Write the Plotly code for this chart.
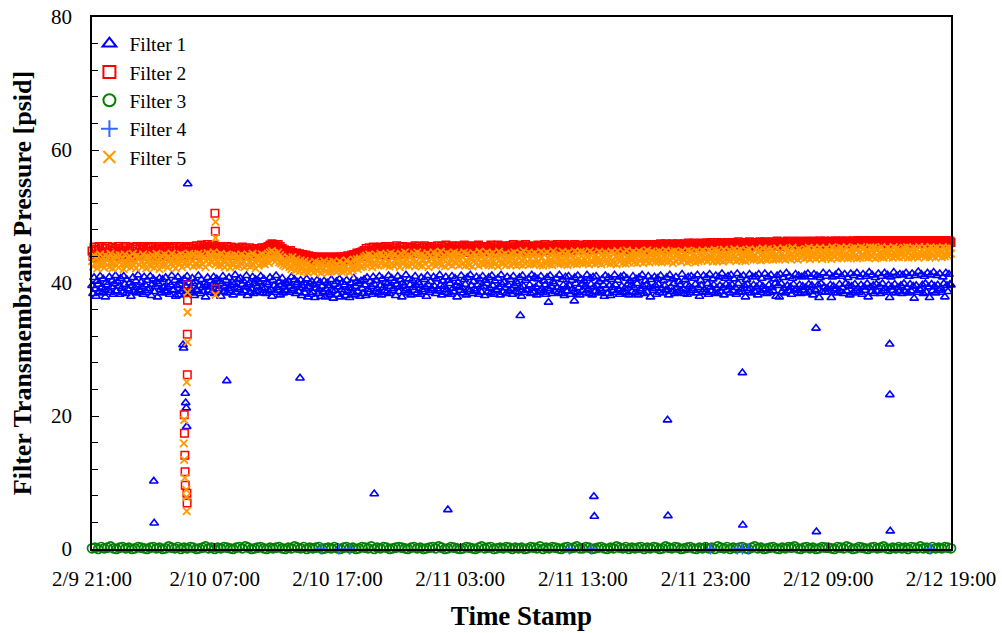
import pandas as pd
import plotly.graph_objects as go

# Transmembrane pressure log (psid) for five filters, starting 2/9 21:00.
# Filters 1, 2 and 5 are logged every 5 minutes, Filter 3 every 15 minutes.
START = "2011-02-09 21:00"
END = "2011-02-12 19:00"

filter1_log = [
    39.6, 38.4, 40.8, 39.1, 38.0, 40.3, 39.8, 38.7, 41.0, 39.3, 38.5, 40.6, 39.0, 37.9, 40.1, 39.7, 38.9, 40.9, 38.6, 39.4, 40.4, 38.3, 39.9, 41.1,
    38.8, 40.2, 39.5, 38.3, 40.7, 39.2, 38.6, 41.0, 39.8, 38.4, 40.5, 39.1, 38.9, 40.0, 38.0, 39.6, 40.8, 38.7, 39.3, 40.3, 38.5, 41.2, 39.0, 38.8,
    40.1, 39.4, 38.3, 40.9, 39.7, 38.6, 40.4, 38.9, 39.2, 41.0, 38.1, 39.8, 40.6, 38.7, 39.5, 40.2, 37.9, 39.9, 40.7, 39.0, 38.5, 40.5, 39.3, 38.8,
    40.8, 38.6, 39.4, 40.1, 38.3, 39.7, 41.1, 38.9, 39.0, 40.4, 38.0, 39.6, 40.9, 38.2, 39.8, 40.3, 38.7, 39.1, 40.6, 38.4, 39.5, 41.0, 38.8, 40.0,
    39.2, 38.5, 40.7, 39.9, 38.1, 40.2, 39.0, 38.8, 41.1, 39.6, 38.4, 40.5, 39.3, 38.7, 40.0, 37.9, 39.7, 40.8, 38.9, 39.4, 40.3, 38.6, 39.8, 40.9,
    38.4, 39.7, 40.6, 38.8, 39.1, 40.2, 38.0, 39.9, 41.0, 38.7, 39.5, 40.4, 38.5, 39.2, 40.8, 38.9, 39.6, 40.1, 38.2, 39.8, 41.2, 38.6, 39.3, 40.5,
    39.0, 40.7, 38.5, 39.8, 40.3, 38.8, 39.4, 41.1, 38.1, 39.7, 40.0, 38.6, 39.1, 40.9, 38.4, 39.9, 40.5, 38.7, 39.5, 40.2, 38.9, 41.0, 39.3, 38.5,
    40.6, 39.2, 38.4, 40.1, 39.8, 38.8, 40.8, 39.0, 38.0, 40.4, 39.6, 38.6, 41.1, 39.3, 38.9, 40.2, 38.2, 39.7, 40.7, 38.5, 39.4, 40.0, 38.8, 39.9,
    40.3, 38.6, 39.5, 40.9, 38.9, 39.2, 40.5, 38.4, 39.8, 40.1, 38.7, 39.3, 40.4, 38.1, 39.6, 40.0, 38.5, 39.1, 40.6, 37.9, 39.4, 39.9, 38.3, 40.2,
    38.6, 39.7, 37.8, 39.2, 40.4, 38.4, 39.0, 40.1, 38.0, 39.5, 38.7, 40.3, 37.9, 39.1, 40.0, 38.5, 39.6, 38.2, 40.5, 38.8, 37.7, 39.8, 38.9, 40.2,
    38.3, 39.4, 40.6, 37.9, 39.0, 40.1, 38.6, 39.7, 38.1, 40.4, 38.8, 39.3, 37.8, 40.0, 39.1, 38.5, 40.7, 38.2, 39.5, 40.2, 38.7, 39.9, 38.0, 40.3,
    39.2, 38.4, 40.5, 39.7, 38.1, 40.8, 39.0, 38.6, 40.2, 39.5, 38.3, 40.9, 39.8, 38.7, 40.4, 39.1, 38.5, 41.0, 39.6, 38.2, 40.6, 39.3, 38.8, 40.1,
    38.6, 39.9, 41.1, 38.4, 39.5, 40.7, 38.9, 39.2, 40.3, 38.1, 39.8, 41.0, 38.7, 39.4, 40.5, 37.9, 40.0, 39.6, 38.8, 41.2, 39.1, 38.5, 40.6, 39.7,
    38.2, 40.4, 39.3, 38.9, 41.0, 39.6, 38.5, 40.1, 39.8, 38.3, 40.8, 39.0, 38.7, 40.5, 39.4, 38.0, 41.1, 39.7, 38.6, 40.2, 39.2, 38.9, 40.9, 39.5,
    38.4, 40.6, 39.1, 38.8, 41.2, 39.7, 38.2, 40.3, 39.5, 38.6, 40.9, 39.0, 38.5, 40.4, 39.9, 38.3, 41.0, 39.2, 38.7, 40.7, 39.6, 37.9, 40.1, 39.4,
    38.9, 41.1, 39.3, 38.5, 40.5, 39.8, 38.2, 40.8, 39.0, 38.7, 41.2, 39.6, 38.4, 40.2, 39.1, 38.8, 40.9, 39.7, 38.3, 40.6, 39.4, 38.6, 41.0, 39.5,
    38.1, 40.4, 39.9, 38.7, 40.8, 39.2, 38.5, 41.1, 39.6, 38.3, 40.3, 39.0, 38.9, 40.7, 39.4, 38.2, 41.2, 39.8, 38.6, 40.1, 39.3, 38.4, 40.9, 39.7,
    38.8, 40.5, 39.1, 38.3, 41.0, 39.6, 38.7, 40.2, 39.9, 38.5, 40.8, 39.3, 38.0, 41.1, 39.5, 38.6, 40.4, 39.0, 38.9, 40.7, 39.7, 38.4, 41.2, 39.2,
    38.5, 40.9, 39.4, 38.2, 40.6, 39.8, 38.8, 41.0, 39.1, 38.6, 40.3, 39.7, 38.3, 40.8, 39.2, 38.9, 41.1, 39.5, 38.4, 40.2, 39.9, 38.7, 40.7, 39.3,
    38.6, 41.2, 39.0, 38.4, 40.5, 39.7, 38.1, 40.9, 39.4, 38.8, 41.0, 39.6, 38.3, 40.4, 39.1, 38.7, 40.8, 39.9, 38.5, 41.1, 39.3, 38.2, 40.6, 39.8,
    38.9, 40.3, 39.5, 38.6, 41.2, 39.0, 38.4, 40.7, 39.8, 38.2, 40.9, 39.4, 38.7, 41.0, 39.6, 38.5, 40.2, 39.1, 38.8, 40.6, 39.7, 38.0, 41.1, 39.2,
    38.4, 40.8, 39.6, 38.1, 40.5, 39.3, 38.9, 41.2, 39.7, 38.6, 40.4, 39.0, 38.3, 40.9, 39.5, 38.7, 41.1, 39.2, 38.5, 40.7, 39.8, 38.2, 40.3, 39.6,
    38.7, 41.0, 39.3, 38.5, 40.6, 39.9, 38.2, 40.8, 39.1, 38.8, 41.2, 39.5, 38.4, 40.3, 39.7, 38.6, 41.0, 39.4, 37.9, 40.5, 39.2, 38.9, 40.9, 39.6,
    38.3, 40.7, 39.8, 38.6, 41.1, 39.2, 38.5, 40.4, 39.6, 38.9, 40.8, 39.0, 38.2, 41.2, 39.4, 38.7, 40.6, 39.9, 38.4, 40.9, 39.3, 38.6, 40.2, 39.7,
    38.8, 41.3, 39.1, 38.4, 40.5, 39.7, 38.3, 40.9, 39.5, 38.6, 41.0, 39.2, 38.9, 40.7, 39.8, 38.5, 41.2, 39.3, 38.0, 40.4, 39.6, 38.7, 41.1, 39.0,
    38.6, 40.8, 39.9, 38.3, 41.3, 39.4, 38.8, 40.6, 39.7, 38.5, 41.1, 39.2, 38.4, 40.9, 39.6, 38.7, 41.4, 39.3, 38.2, 40.7, 39.8, 38.9, 41.0, 39.5,
    38.5, 41.2, 39.7, 38.8, 40.6, 39.3, 38.3, 41.4, 39.9, 38.6, 40.8, 39.1, 38.7, 41.1, 39.6, 37.9, 40.5, 39.8, 38.9, 41.3, 39.2, 38.5, 40.9, 39.7,
    38.7, 41.0, 39.4, 38.2, 41.3, 39.8, 38.6, 40.7, 39.5, 38.9, 41.4, 39.1, 38.4, 40.9, 39.7, 38.6, 41.2, 39.3, 38.8, 40.6, 39.9, 38.0, 41.1, 39.6,
    37.9, 41.3, 39.9, 38.7, 40.8, 39.2, 38.5, 41.5, 39.6, 38.8, 41.0, 39.4, 38.3, 40.7, 39.8, 38.9, 41.3, 39.1, 38.6, 41.1, 39.7, 38.4, 40.9, 39.5,
    38.9, 41.2, 39.3, 38.5, 41.4, 39.8, 38.7, 40.9, 39.6, 38.2, 41.3, 39.0, 38.8, 41.1, 39.7, 37.8, 40.8, 39.9, 38.6, 41.5, 39.4, 38.7, 41.0, 39.2,
    38.6, 41.4, 39.7, 37.8, 40.9, 39.5, 38.9, 41.2, 39.1, 38.5, 41.6, 39.8, 38.7, 41.0, 39.3, 38.4, 41.3, 39.9, 38.8, 40.8, 39.6, 38.2, 41.4, 39.5,
    38.5, 41.1, 39.8, 38.8, 41.5, 39.2, 38.6, 40.9, 39.7, 38.3, 41.3, 39.4, 38.9, 41.0, 39.9, 37.9, 41.6, 39.3, 38.7, 41.2, 39.6, 38.4, 40.8, 39.8,
    38.7, 41.4, 39.5, 38.4, 41.0, 39.9, 38.8, 41.5, 39.2, 38.6, 41.2, 39.7, 37.8, 40.9, 39.4, 38.9, 41.6, 39.8, 38.5, 41.1, 39.3, 38.7, 41.3, 39.6,
    38.4, 41.2, 39.9, 38.7, 41.5, 39.3, 38.5, 41.0, 39.8, 38.8, 41.4, 39.5, 37.7, 41.1, 39.6, 38.6, 41.7, 39.1, 38.9, 41.3, 39.7, 38.4, 41.0, 39.9,
    38.6, 41.5, 39.4, 37.8, 41.2, 39.8, 38.8, 41.6, 39.5, 38.5, 41.1, 39.7, 38.9, 41.4, 39.2, 38.6, 40.9, 39.9, 37.9, 41.5, 39.6, 38.7, 41.3, 39.8,
    39.7,
]

filter2_log = [
    44.8, 44.0, 45.4, 44.3, 45.1, 43.8, 44.9, 45.5, 44.2, 44.6, 45.3, 43.9, 44.7, 45.2, 44.1, 45.5, 44.4, 44.0, 45.0, 44.5, 45.4, 44.1, 44.8, 45.2,
    44.0, 44.6, 45.5, 44.2, 45.0, 43.9, 44.7, 45.3, 44.3, 45.5, 44.1, 44.9, 44.5, 45.2, 43.8, 44.8, 45.4, 44.2, 45.1, 44.4, 45.5, 44.0, 44.6, 45.3,
    44.2, 45.0, 45.5, 44.5, 44.0, 45.2, 44.7, 45.4, 44.1, 44.8, 45.5, 44.3, 44.9, 43.9, 45.3, 44.6, 45.1, 44.0, 45.5, 44.4, 44.7, 45.2, 44.2, 45.5,
    44.5, 45.1, 44.0, 45.4, 44.8, 43.9, 45.2, 44.4, 45.5, 44.1, 44.9, 45.3, 44.3, 44.7, 45.5, 44.0, 45.0, 44.6, 45.2, 44.2, 45.4, 44.8, 44.1, 45.5,
    44.5, 45.2, 44.7, 45.5, 44.2, 45.0, 45.6, 44.5, 44.9, 45.3, 44.2, 45.7, 44.8, 45.1, 45.5, 44.6, 45.2, 45.8, 44.7, 45.4, 45.0, 45.6, 44.8, 45.7,
    45.1, 44.5, 45.4, 44.8, 45.2, 44.3, 45.5, 44.9, 44.6, 45.3, 44.2, 45.0, 45.5, 44.7, 45.1, 44.4, 45.4, 44.1, 44.9, 45.2, 44.5, 45.3, 44.8, 45.1,
    44.3, 45.0, 44.7, 45.4, 44.1, 44.8, 45.2, 44.5, 44.9, 44.2, 45.3, 44.6, 45.0, 44.0, 44.7, 45.1, 44.4, 44.8, 45.2, 44.3, 44.9, 44.6, 45.3, 44.7,
    45.0, 44.5, 45.3, 44.9, 45.5, 44.8, 45.7, 45.2, 45.9, 45.4, 45.8, 45.1, 45.6, 45.3, 45.8, 45.0, 45.5, 44.8, 45.2, 44.6, 45.0, 44.4, 44.8, 44.2,
    44.7, 44.1, 44.9, 44.3, 44.6, 43.8, 44.4, 44.0, 44.5, 43.7, 44.2, 44.4, 43.8, 44.1, 44.3, 43.6, 44.0, 44.2, 43.5, 43.9, 44.1, 43.4, 43.8, 44.0,
    43.5, 43.9, 43.3, 43.8, 43.9, 43.4, 43.8, 43.2, 43.7, 43.9, 43.5, 43.8, 43.9, 43.3, 43.6, 43.8, 43.4, 43.9, 43.5, 43.8, 43.2, 43.9, 43.6, 43.8,
    43.4, 43.9, 43.7, 43.9, 43.3, 43.8, 43.9, 43.5, 43.9, 43.6, 44.1, 43.4, 43.9, 43.7, 44.2, 43.5, 44.3, 43.8, 44.1, 44.5, 43.7, 44.3, 44.6, 44.0,
    44.7, 44.2, 44.9, 44.5, 45.2, 44.1, 44.8, 45.3, 44.4, 45.0, 44.6, 45.4, 44.3, 44.9, 45.2, 44.5, 45.1, 44.7, 45.4, 44.2, 44.9, 45.3, 44.6, 45.5,
    44.4, 45.1, 44.7, 45.5, 44.2, 44.9, 45.3, 44.5, 45.2, 44.8, 45.6, 44.4, 45.0, 45.4, 44.3, 44.9, 45.5, 44.6, 45.1, 44.4, 45.4, 44.8, 45.2, 44.5,
    44.9, 45.4, 44.4, 45.1, 45.6, 44.6, 45.2, 44.5, 45.5, 44.9, 44.6, 45.3, 44.8, 45.6, 44.3, 45.0, 45.4, 44.7, 45.2, 44.5, 45.5, 44.9, 44.6, 45.3,
    44.6, 45.2, 45.6, 44.8, 45.0, 44.4, 45.5, 44.9, 45.3, 44.6, 45.7, 45.1, 44.7, 45.4, 44.5, 45.2, 45.6, 44.8, 45.0, 45.5, 44.6, 45.3, 44.9, 45.6,
    45.1, 44.7, 45.4, 44.9, 45.7, 44.6, 45.2, 45.5, 44.8, 45.3, 45.0, 45.6, 44.7, 45.1, 45.5, 44.5, 45.3, 44.9, 45.7, 44.8, 45.2, 45.5, 44.7, 45.4,
    44.9, 45.5, 45.1, 44.7, 45.4, 44.9, 45.7, 44.8, 45.2, 45.6, 45.0, 44.6, 45.3, 45.7, 44.9, 45.1, 45.5, 44.9, 45.4, 44.7, 45.2, 45.6, 45.0, 45.3,
    45.0, 45.6, 44.8, 45.3, 45.8, 45.0, 45.4, 44.9, 45.5, 45.1, 45.7, 44.7, 45.2, 45.5, 45.0, 45.3, 45.8, 44.9, 45.1, 45.6, 45.0, 45.4, 44.8, 45.5,
    45.2, 44.9, 45.5, 45.0, 45.7, 44.9, 45.3, 45.6, 44.8, 45.4, 45.1, 45.8, 45.0, 45.2, 45.5, 44.9, 45.6, 45.1, 45.3, 45.7, 45.0, 45.4, 45.2, 45.8,
    45.1, 45.5, 45.2, 44.9, 45.6, 45.1, 45.8, 45.0, 45.4, 45.7, 45.1, 45.3, 45.6, 44.9, 45.5, 45.2, 45.8, 45.0, 45.3, 45.6, 45.1, 45.7, 45.0, 45.4,
    45.3, 45.0, 45.6, 45.1, 45.8, 45.2, 45.5, 45.0, 45.7, 45.3, 45.0, 45.6, 45.4, 45.8, 45.1, 45.5, 45.2, 45.8, 45.0, 45.4, 45.7, 45.1, 45.5, 45.8,
    45.2, 45.6, 45.3, 45.8, 45.1, 45.4, 45.7, 45.2, 45.5, 45.0, 45.8, 45.3, 45.6, 45.1, 45.8, 45.4, 45.2, 45.7, 45.0, 45.5, 45.8, 45.3, 45.6, 45.2,
    45.5, 45.2, 45.8, 45.3, 45.6, 45.1, 45.8, 45.4, 45.2, 45.7, 45.5, 45.1, 45.8, 45.3, 45.6, 45.0, 45.8, 45.4, 45.2, 45.7, 45.5, 45.8, 45.1, 45.6,
    45.3, 45.8, 45.2, 45.6, 45.9, 45.4, 45.1, 45.7, 45.5, 45.9, 45.2, 45.6, 45.3, 45.8, 45.1, 45.5, 45.9, 45.4, 45.7, 45.2, 45.6, 45.9, 45.3, 45.8,
    45.4, 45.2, 45.7, 45.9, 45.3, 45.6, 45.2, 46.0, 45.5, 45.8, 45.3, 45.6, 46.0, 45.4, 45.7, 45.2, 45.9, 45.5, 45.8, 45.3, 46.0, 45.6, 45.4, 45.7,
    45.6, 46.0, 45.3, 45.8, 45.5, 46.1, 45.4, 45.7, 45.9, 45.2, 45.8, 45.6, 46.1, 45.4, 45.7, 46.0, 45.5, 45.8, 45.3, 45.9, 45.6, 46.1, 45.4, 45.7,
    45.9, 45.5, 45.8, 46.1, 45.4, 45.7, 46.0, 45.6, 46.2, 45.5, 45.8, 45.3, 45.9, 45.7, 46.1, 45.4, 45.8, 46.0, 45.6, 46.2, 45.5, 45.7, 45.9, 45.6,
    45.8, 46.1, 45.5, 45.9, 45.7, 46.2, 45.4, 45.8, 46.0, 45.6, 46.2, 45.7, 45.5, 46.1, 45.8, 45.9, 45.6, 46.2, 45.7, 45.5, 46.0, 45.8, 46.3, 45.6,
    46.0, 45.7, 46.2, 45.8, 45.6, 46.1, 45.9, 45.5, 46.3, 45.8, 46.0, 45.7, 46.2, 45.6, 45.9, 46.1, 45.8, 46.3, 45.7, 46.0, 45.6, 46.2, 45.9, 45.8,
    46.1, 45.8, 46.3, 45.7, 46.0, 45.9, 46.2, 45.6, 46.1, 45.8, 46.3, 45.9, 45.7, 46.2, 46.0, 45.8, 46.3, 45.7, 46.1, 45.9, 46.3, 45.8, 46.0, 46.2,
    45.8, 46.2, 45.9, 46.3, 45.7, 46.1, 46.0, 46.3, 45.8, 46.2, 45.9, 46.3, 45.7, 46.1, 46.3, 45.9, 46.0, 45.8, 46.3, 46.1, 45.9, 46.2, 45.7, 46.3,
    46.0, 46.3, 45.8, 46.2, 46.1, 46.4, 45.9, 46.0, 46.3, 45.8, 46.2, 46.1, 46.3, 45.9, 46.4, 46.0, 45.8, 46.3, 46.1, 46.3, 45.9, 46.2, 46.0, 46.4,
    46.1, 45.9, 46.3, 46.2, 45.8, 46.3, 46.0, 46.4, 46.1, 45.9, 46.3, 46.2, 46.0, 46.4, 45.9, 46.3, 46.1, 46.3, 45.8, 46.2, 46.4, 46.0, 46.3, 46.1,
    46.3, 46.0, 46.4, 46.1, 46.3, 45.9, 46.2, 46.4, 46.1, 46.3, 46.0, 46.4, 46.2, 45.9, 46.3, 46.1, 46.4, 46.0, 46.3, 46.2, 46.4, 45.9, 46.3, 46.1,
    46.2, 46.4, 46.0, 46.3, 46.1, 46.4, 45.9, 46.3, 46.2, 46.4, 46.1, 46.3, 46.0, 46.3, 46.4, 46.1, 46.3, 45.9, 46.2, 46.4, 46.1, 46.3, 46.0, 46.3,
    46.1,
]

filter3_log = [
    0.1, 0.2, 0.0, 0.3, 0.1, 0.2, 0.4, 0.1, 0.0, 0.2, 0.3, 0.1, 0.2, 0.0, 0.1, 0.3, 0.2, 0.1, 0.0, 0.2,
    0.3, 0.1, 0.2, 0.0, 0.1, 0.4, 0.2, 0.1, 0.3, 0.0, 0.2, 0.1, 0.3, 0.2, 0.0, 0.1, 0.2, 0.4, 0.1, 0.2,
    0.0, 0.2, 0.1, 0.3, 0.2, 0.1, 0.0, 0.2, 0.3, 0.1, 0.4, 0.2, 0.0, 0.1, 0.2, 0.3, 0.1, 0.0, 0.2, 0.1,
    0.2, 0.3, 0.1, 0.0, 0.2, 0.1, 0.4, 0.2, 0.1, 0.3, 0.0, 0.2, 0.1, 0.2, 0.3, 0.0, 0.1, 0.2, 0.1, 0.3,
    0.1, 0.0, 0.2, 0.3, 0.1, 0.2, 0.0, 0.1, 0.3, 0.2, 0.1, 0.4, 0.0, 0.2, 0.1, 0.3, 0.2, 0.0, 0.1, 0.2,
    0.3, 0.2, 0.1, 0.0, 0.2, 0.3, 0.1, 0.2, 0.0, 0.1, 0.2, 0.3, 0.1, 0.4, 0.2, 0.0, 0.1, 0.3, 0.2, 0.1,
    0.0, 0.1, 0.3, 0.2, 0.1, 0.0, 0.2, 0.4, 0.1, 0.2, 0.3, 0.0, 0.1, 0.2, 0.1, 0.3, 0.2, 0.0, 0.2, 0.1,
    0.2, 0.0, 0.1, 0.3, 0.2, 0.1, 0.4, 0.0, 0.2, 0.1, 0.3, 0.2, 0.1, 0.0, 0.2, 0.3, 0.1, 0.2, 0.4, 0.1,
    0.1, 0.3, 0.2, 0.0, 0.1, 0.2, 0.3, 0.1, 0.0, 0.2, 0.1, 0.4, 0.2, 0.1, 0.3, 0.0, 0.2, 0.1, 0.2, 0.3,
    0.0, 0.2, 0.1, 0.3, 0.2, 0.0, 0.1, 0.4, 0.2, 0.1, 0.3, 0.2, 0.0, 0.1, 0.2, 0.3, 0.1, 0.0, 0.2, 0.1,
    0.3, 0.1, 0.2, 0.0, 0.4, 0.2, 0.1, 0.3, 0.0, 0.2, 0.1, 0.2, 0.3, 0.1, 0.0, 0.2, 0.4, 0.1, 0.2, 0.0,
    0.1, 0.2, 0.3, 0.1, 0.0, 0.2, 0.1, 0.3, 0.2, 0.4, 0.1, 0.0, 0.2, 0.3, 0.1, 0.2, 0.0, 0.1, 0.3, 0.2,
    0.2, 0.1, 0.0, 0.3, 0.2, 0.1, 0.4, 0.2, 0.0, 0.1, 0.3, 0.2, 0.1, 0.0, 0.2, 0.3, 0.1, 0.2, 0.4, 0.1,
    0.0, 0.2, 0.1, 0.3, 0.1, 0.2, 0.0, 0.3, 0.2, 0.1, 0.4, 0.1, 0.2, 0.0, 0.3, 0.1, 0.2, 0.1, 0.3, 0.2,
    0.1,
]

filter5_log = [
    43.3, 42.5, 44.1, 42.9, 43.7, 42.2, 44.0, 42.8, 44.3, 43.1, 42.6, 43.8, 42.3, 44.2, 43.5, 42.7, 43.9, 42.4, 44.4, 43.0, 42.2, 43.6, 42.9, 44.1,
    42.6, 43.9, 42.3, 44.2, 43.4, 42.8, 43.7, 42.1, 44.3, 43.0, 42.5, 43.8, 42.9, 44.0, 42.4, 43.5, 44.4, 42.7, 43.2, 42.2, 44.1, 43.6, 42.8, 43.9,
    43.1, 42.4, 44.3, 42.9, 43.6, 42.2, 44.0, 43.3, 42.7, 43.9, 42.5, 44.2, 43.0, 42.3, 43.8, 44.4, 42.8, 43.4, 42.1, 43.7, 44.1, 42.6, 43.2, 44.3,
    42.7, 43.8, 42.3, 44.0, 43.5, 42.9, 44.4, 42.5, 43.2, 43.9, 42.2, 44.1, 43.6, 42.8, 43.0, 44.3, 42.4, 43.7, 42.9, 44.2, 43.1, 42.6, 43.9, 44.4,
    42.9, 44.1, 43.4, 42.5, 44.3, 43.0, 42.7, 43.9, 44.4, 42.6, 43.5, 44.2, 42.8, 43.7, 44.0, 42.4, 43.3, 44.5, 42.9, 43.8, 44.3, 43.1, 44.0, 44.6,
    43.5, 42.8, 44.2, 43.1, 42.6, 43.9, 44.4, 42.7, 43.3, 44.0, 42.4, 43.8, 44.3, 42.9, 43.6, 42.3, 44.1, 43.0, 42.7, 43.9, 44.2, 42.5, 43.4, 44.0,
    42.6, 43.7, 44.3, 42.9, 43.2, 42.4, 44.0, 43.6, 42.7, 44.2, 43.1, 42.5, 43.8, 44.4, 42.8, 43.3, 42.2, 43.9, 44.1, 42.6, 43.5, 42.9, 44.3, 43.0,
    43.4, 42.8, 44.1, 43.6, 44.4, 43.0, 44.6, 43.7, 44.8, 43.5, 44.5, 43.2, 44.3, 43.8, 44.6, 43.1, 44.2, 42.9, 43.9, 42.7, 43.6, 42.5, 43.3, 42.8,
    43.8, 42.4, 43.5, 42.1, 43.9, 42.7, 43.2, 41.9, 43.6, 42.5, 43.0, 41.8, 43.4, 42.3, 42.9, 41.7, 43.3, 42.0, 42.8, 41.6, 43.1, 42.2, 42.6, 41.9,
    42.4, 41.6, 43.2, 42.0, 42.7, 41.8, 43.0, 42.3, 41.5, 42.9, 42.1, 43.3, 41.7, 42.5, 42.9, 41.6, 43.1, 42.2, 41.8, 42.6, 43.2, 41.9, 42.4, 41.7,
    42.8, 41.9, 43.3, 42.2, 41.7, 42.6, 43.0, 41.8, 42.5, 43.4, 42.0, 42.9, 41.6, 43.1, 42.4, 41.9, 43.5, 42.3, 42.8, 43.6, 42.1, 43.0, 43.7, 42.4,
    43.2, 42.5, 43.9, 42.8, 44.1, 42.6, 43.5, 44.3, 42.9, 43.7, 42.4, 44.0, 43.1, 42.7, 44.2, 43.4, 42.6, 43.8, 44.4, 42.9, 43.3, 44.1, 42.8, 43.6,
    42.7, 44.2, 43.3, 42.5, 44.5, 43.0, 43.8, 42.6, 44.3, 43.4, 42.8, 44.0, 43.6, 42.4, 44.4, 43.1, 42.9, 43.9, 44.6, 42.7, 43.5, 44.1, 42.6, 43.8,
    44.0, 42.8, 43.6, 44.4, 42.5, 43.2, 44.6, 43.0, 42.7, 43.9, 44.3, 42.6, 43.5, 44.1, 42.9, 43.7, 44.5, 42.4, 43.3, 44.2, 42.8, 43.8, 44.6, 43.1,
    42.6, 43.9, 44.4, 42.9, 43.4, 44.7, 42.7, 43.6, 44.1, 42.5, 43.8, 44.5, 43.0, 42.8, 44.3, 43.5, 42.6, 44.0, 44.6, 43.2, 42.9, 43.7, 44.4, 42.7,
    43.6, 44.2, 42.8, 43.9, 44.6, 42.6, 43.3, 44.4, 43.0, 42.7, 44.1, 43.8, 42.5, 44.5, 43.4, 42.9, 44.2, 43.7, 42.6, 44.7, 43.1, 43.9, 42.8, 44.3,
    42.9, 43.5, 44.6, 43.0, 42.7, 44.3, 43.8, 42.6, 44.5, 43.2, 42.8, 44.0, 43.7, 42.5, 44.7, 43.4, 43.0, 44.2, 42.9, 43.6, 44.4, 42.7, 43.9, 44.1,
    43.3, 42.7, 44.4, 43.8, 42.9, 44.6, 43.1, 42.6, 44.2, 43.9, 42.8, 44.5, 43.4, 42.7, 44.8, 43.6, 42.9, 44.1, 43.2, 44.6, 42.8, 43.7, 44.3, 43.0,
    42.8, 44.5, 43.6, 42.9, 44.2, 43.3, 42.7, 44.7, 43.9, 42.6, 44.4, 43.1, 42.9, 44.6, 43.7, 42.8, 44.3, 43.4, 42.7, 44.8, 43.2, 43.9, 44.1, 42.9,
    43.7, 44.3, 42.9, 43.5, 44.7, 43.1, 42.8, 44.4, 43.9, 42.7, 44.6, 43.3, 43.0, 44.2, 43.8, 42.9, 44.8, 43.4, 42.8, 44.5, 43.6, 43.1, 44.7, 43.2,
    42.9, 44.6, 43.5, 43.0, 44.3, 43.9, 42.8, 44.8, 43.3, 43.1, 44.5, 43.7, 42.9, 44.2, 43.6, 43.0, 44.7, 43.4, 42.8, 44.4, 43.9, 43.2, 44.6, 43.5,
    43.1, 44.4, 43.8, 42.9, 44.7, 43.3, 43.0, 44.5, 44.0, 42.8, 44.8, 43.6, 43.2, 44.3, 43.9, 43.0, 44.6, 43.5, 42.9, 44.9, 43.7, 43.1, 44.4, 43.8,
    43.4, 44.7, 43.1, 43.9, 44.5, 43.0, 44.2, 44.8, 43.3, 43.7, 44.4, 43.0, 44.6, 43.5, 43.2, 44.9, 43.8, 43.1, 44.3, 44.7, 43.4, 43.9, 44.5, 43.2,
    43.6, 44.4, 43.2, 44.8, 43.5, 43.1, 44.6, 44.0, 43.3, 44.9, 43.7, 43.2, 44.5, 44.1, 43.4, 44.7, 43.0, 43.8, 44.8, 43.3, 44.2, 44.6, 43.5, 43.9,
    43.2, 44.8, 43.9, 43.4, 44.5, 44.0, 43.1, 44.9, 43.6, 43.3, 44.7, 44.2, 43.5, 44.4, 43.1, 44.8, 43.8, 43.3, 44.6, 44.1, 43.4, 44.9, 43.7, 43.5,
    43.8, 44.6, 43.3, 44.9, 44.0, 43.5, 44.7, 43.2, 44.4, 45.0, 43.6, 43.3, 44.8, 44.1, 43.4, 44.6, 43.9, 43.2, 45.0, 44.3, 43.7, 44.5, 43.5, 44.9,
    43.4, 44.7, 44.2, 43.6, 45.1, 43.9, 43.3, 44.8, 44.4, 43.5, 45.0, 43.8, 43.4, 44.6, 44.1, 43.3, 44.9, 44.3, 43.7, 45.1, 43.6, 44.5, 44.0, 43.5,
    44.1, 45.0, 43.5, 44.6, 43.8, 44.9, 43.4, 44.4, 45.2, 43.7, 44.2, 43.5, 44.8, 45.1, 43.6, 44.3, 43.9, 45.0, 43.5, 44.7, 44.2, 43.6, 45.2, 43.9,
    43.6, 44.8, 44.3, 43.7, 45.2, 44.0, 43.5, 45.0, 44.5, 43.8, 44.9, 43.6, 44.4, 45.3, 43.9, 43.7, 44.7, 44.2, 43.5, 45.1, 44.6, 43.8, 44.9, 44.0,
    44.3, 43.7, 45.1, 44.5, 43.9, 45.3, 43.6, 44.8, 44.2, 43.8, 45.2, 44.4, 43.7, 45.0, 44.6, 43.9, 45.3, 44.1, 43.6, 44.9, 44.5, 43.8, 45.2, 44.3,
    43.8, 45.0, 44.4, 43.6, 45.4, 44.1, 43.9, 44.8, 45.2, 43.7, 44.5, 44.0, 45.3, 43.8, 44.7, 45.1, 43.9, 44.3, 45.4, 43.7, 44.9, 44.2, 43.8, 45.2,
    44.5, 43.9, 45.3, 44.2, 43.7, 45.1, 44.6, 43.8, 45.4, 44.3, 44.0, 45.2, 43.9, 44.7, 45.0, 43.8, 44.4, 45.4, 44.1, 43.9, 45.3, 44.6, 43.7, 45.1,
    44.0, 45.2, 44.5, 43.9, 45.4, 44.2, 43.8, 45.0, 44.7, 44.1, 45.3, 43.9, 44.6, 45.1, 44.3, 43.8, 45.4, 44.4, 44.0, 45.2, 44.8, 43.9, 45.0, 44.4,
    44.6, 43.9, 45.3, 44.1, 44.8, 45.4, 43.8, 44.5, 45.1, 44.2, 43.9, 45.3, 44.7, 44.0, 45.2, 44.4, 43.8, 45.4, 44.6, 44.1, 45.0, 44.3, 45.4, 43.9,
    44.2, 45.1, 44.7, 43.9, 45.4, 44.4, 44.0, 45.2, 44.8, 43.8, 45.3, 44.5, 44.1, 45.0, 44.6, 43.9, 45.4, 44.3, 44.0, 45.2, 44.7, 44.1, 45.3, 44.5,
    44.4,
]

# Additional readings logged during backwash / upset events
filter1_event_times = [
    "2011-02-10 02:02", "2011-02-10 02:04",
    "2011-02-10 04:25", "2011-02-10 04:28", "2011-02-10 04:36", "2011-02-10 04:38",
    "2011-02-10 04:41", "2011-02-10 04:43", "2011-02-10 04:48",
    "2011-02-10 07:59", "2011-02-10 13:57", "2011-02-10 20:00", "2011-02-11 02:00",
    "2011-02-11 07:54", "2011-02-11 10:12", "2011-02-11 12:18",
    "2011-02-11 13:54", "2011-02-11 13:56", "2011-02-11 19:54", "2011-02-11 19:56",
    "2011-02-12 02:00", "2011-02-12 02:02", "2011-02-12 08:00", "2011-02-12 08:02",
    "2011-02-12 14:00", "2011-02-12 14:01", "2011-02-12 14:03",
]
filter1_event_values = [
    10.2, 3.9,
    30.7, 30.2, 23.4, 22.0,
    21.2, 18.4, 54.9,
    25.3, 25.7, 8.3, 5.9,
    35.1, 37.1, 37.3,
    7.9, 4.9, 19.4, 5.0,
    26.5, 3.6, 33.2, 2.6,
    30.8, 23.2, 2.7,
]

filter2_event_times = [
    "2011-02-10 04:47", "2011-02-10 04:47", "2011-02-10 04:46", "2011-02-10 04:46",
    "2011-02-10 04:31", "2011-02-10 04:32", "2011-02-10 04:34", "2011-02-10 04:35",
    "2011-02-10 04:36", "2011-02-10 04:44", "2011-02-10 04:45",
    "2011-02-10 07:01", "2011-02-10 07:03", "2011-02-10 07:04",
]
filter2_event_values = [
    39.7, 37.4, 32.3, 26.2,
    20.2, 17.4, 14.1, 11.6,
    9.6, 8.4, 6.9,
    50.5, 47.8, 39.1,
]

filter5_event_times = [
    "2011-02-10 04:47", "2011-02-10 04:47", "2011-02-10 04:47", "2011-02-10 04:43",
    "2011-02-10 04:31", "2011-02-10 04:29", "2011-02-10 04:31", "2011-02-10 04:34",
    "2011-02-10 04:41", "2011-02-10 04:42", "2011-02-10 04:43",
    "2011-02-10 07:04", "2011-02-10 07:04", "2011-02-10 07:04",
]
filter5_event_values = [
    38.6, 35.6, 31.1, 25.1,
    19.4, 15.9, 13.4, 10.7,
    8.9, 7.8, 5.7,
    49.2, 46.8, 38.2,
]

# Filter 4 only reported a handful of readings
filter4_times = [
    "2011-02-10 15:42", "2011-02-10 17:06", "2011-02-10 18:00",
    "2011-02-11 11:54", "2011-02-11 13:42",
    "2011-02-11 23:24", "2011-02-12 01:36", "2011-02-12 02:00", "2011-02-12 02:30",
    "2011-02-12 17:18",
]
filter4_values = [0.0, 0.0, 0.0, 0.0, 0.0, 0.0, 0.0, 0.0, 0.0, 0.0]


def combine(log_values, freq, extra_times=(), extra_values=()):
    """Regular log readings followed by any extra event readings."""
    stamps = pd.date_range(START, periods=len(log_values), freq=freq)
    x = list(stamps) + list(pd.to_datetime(list(extra_times)))
    y = list(log_values) + list(extra_values)
    return x, y


FONT = "Liberation Serif, Times New Roman, serif"

# name, x, y, symbol, colour, marker size, outline width
series = [
    ("Filter 1", *combine(filter1_log, "5min", filter1_event_times, filter1_event_values),
     "triangle-up-open", "#0000FF", 7.5, 1.6),
    ("Filter 2", *combine(filter2_log, "5min", filter2_event_times, filter2_event_values),
     "square-open", "#FF0000", 7.5, 1.5),
    ("Filter 3", *combine(filter3_log, "15min"),
     "circle-open", "#008000", 9, 1.7),
    ("Filter 4", list(pd.to_datetime(filter4_times)), filter4_values,
     "cross-thin-open", "#3366FF", 8, 1.5),
    ("Filter 5", *combine(filter5_log, "5min", filter5_event_times, filter5_event_values),
     "x-thin-open", "#FF9900", 7.5, 1.8),
]

fig = go.Figure()
for name, x, y, symbol, color, size, width in series:
    fig.add_trace(go.Scatter(
        x=x, y=y, name=name, mode="markers", cliponaxis=False,
        marker=dict(symbol=symbol, size=size, color=color,
                    line=dict(color=color, width=width)),
    ))

fig.update_layout(
    width=1002, height=633,
    margin=dict(l=92, r=51, t=17, b=84),
    paper_bgcolor="white", plot_bgcolor="white",
    font=dict(family=FONT, size=21, color="black"),
    showlegend=True,
    legend=dict(x=-0.003, y=0.986, xanchor="left", yanchor="top",
                bgcolor="rgba(0,0,0,0)", font=dict(family=FONT, size=19.5),
                tracegroupgap=0, itemsizing="constant"),
)

fig.update_xaxes(
    type="date", range=[START, END], tick0=START, dtick=10 * 3600 * 1000,
    tickformat="%-m/%-d %H:%M", ticks="inside", ticklen=6, tickwidth=1,
    tickcolor="black", showline=True, linecolor="black", linewidth=1.5,
    mirror=True, showgrid=False, zeroline=False, ticklabelstandoff=10,
    automargin=False, tickfont=dict(family=FONT, size=21),
    title=dict(text="<b>Time Stamp</b>", font=dict(family=FONT, size=27), standoff=16),
)

fig.update_yaxes(
    range=[0, 80], tick0=0, dtick=20, ticks="inside", ticklen=7, tickwidth=1,
    tickcolor="black", showline=True, linecolor="black", linewidth=1.5,
    mirror=True, showgrid=False, zeroline=False, ticklabelstandoff=14,
    automargin=False,
    minor=dict(dtick=4, ticks="inside", ticklen=6, tickcolor="black", tickwidth=1),
    tickfont=dict(family=FONT, size=21),
    title=dict(text="<b>Filter Transmembrane Pressure [psid]</b>",
               font=dict(family=FONT, size=26), standoff=12),
)

fig.write_html("out.html")
